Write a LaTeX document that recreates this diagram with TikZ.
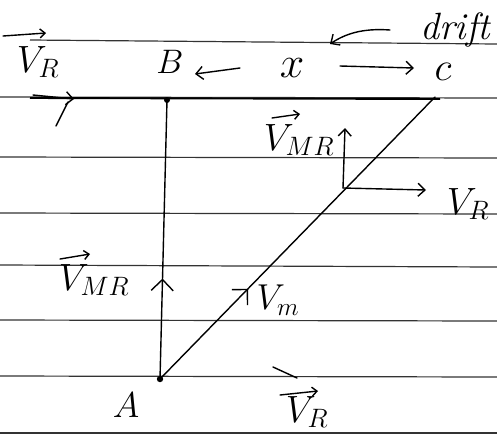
\RequirePackage{fix-cm}
\documentclass[tikz,border=0pt]{standalone}
\usetikzlibrary{arrows.meta,decorations.markings}
\begin{document}
\begin{tikzpicture}[x=1pt,y=-1pt,
  paper/.style={line width=1.2pt, black!80},
  bank/.style={line width=1.9pt, black},
  ink/.style={line width=1.4pt, black, line cap=round},
  lbl/.style={font=\fontsize{34}{38}\selectfont, inner sep=0pt},
  vlbl/.style={font=\fontsize{38}{42}\selectfont, inner sep=0pt},
  tip/.style={-{Straight Barb[length=7pt,width=13pt]}},
  vtip/.style={-{Straight Barb[length=5pt,width=9pt]}},
  midtip/.style={postaction={decorate},decoration={markings,mark=at position #1 with {\arrow{Straight Barb[length=11pt,width=22pt,line width=1.4pt]}}}}
]
\useasboundingbox (0,0) rectangle (497,440);
\fill[white] (0,0) rectangle (497,440);

% ruled paper
\draw[paper] (30,40) -- (497,44);
\draw[paper] (0,97) -- (497,98);
\draw[paper] (0,157) -- (497,158);
\draw[paper] (0,213) -- (497,214);
\draw[paper] (0,265) -- (497,267);
\draw[paper] (0,320) -- (497,321);
\draw[paper] (0,376) -- (497,377);
\draw[paper] (0,433) -- (497,433);
\draw[bank] (30,98) -- (440,99);

% points
\coordinate (A) at (160,379);
\coordinate (B) at (167,100);
\coordinate (C) at (435,97);
\coordinate (O) at (343,188);
\coordinate (Oup) at (345,128);
\coordinate (Oright) at (426,190);
\fill (A) circle (3.2pt);
\fill (B) circle (3pt);

% main vectors
\draw[ink, midtip=0.36] (A) -- (B);
\draw[ink, midtip=0.32] (A) -- (C);
\draw[ink, tip] (O) -- (Oup);
\draw[ink, tip] (O) -- (Oright);

% bank / width / drift arrows
\coordinate (bl1) at (33,95); \coordinate (bl2) at (74,99);
\coordinate (bl3) at (68,102); \coordinate (bl4) at (56,126);
\draw[ink, tip] (bl1) -- (bl2);
\draw[ink] (bl3) -- (bl4);
\coordinate (xl1) at (240,68); \coordinate (xl2) at (195,74);
\coordinate (xr1) at (340,66); \coordinate (xr2) at (414,68);
\draw[ink, tip] (xl1) -- (xl2);
\draw[ink, tip] (xr1) -- (xr2);
\coordinate (d1) at (390,30); \coordinate (d2) at (330,44);
\draw[ink, tip] (d1) .. controls (362,28) and (345,34) .. (d2);
\coordinate (bb1) at (273,367); \coordinate (bb2) at (297,378);
\draw[ink] (bb1) -- (bb2);

% labels
\node[vlbl] (lVRtl) at (38,62) {$V_{R}$};
\node[lbl] (lB) at (170,62) {$B$};
\node[lbl, font=\fontsize{44}{48}\selectfont] (lx) at (292,68) {$x$};
\node[lbl, font=\fontsize{40}{44}\selectfont] (lc) at (443,72) {$c$};
\node[lbl, font=\fontsize{38}{42}\selectfont\itshape] (ldrift) at (455,30) {drift};
\node[vlbl] (lVMRtr) at (299,140) {$V_{MR}$};
\node[vlbl] (lVRr) at (468,204) {$V_{R}$};
\node[vlbl] (lVMRl) at (94,280) {$V_{MR}$};
\node[vlbl, font=\fontsize{36}{40}\selectfont] (lVm) at (278,300) {$V_{m}$};
\node[lbl, font=\fontsize{36}{40}\selectfont] (lA) at (126,405) {$A$};
\node[vlbl] (lVRb) at (307,412) {$V_{R}$};

% vector arrows over the V's
\coordinate (a1s) at (3,36);   \coordinate (a1e) at (46,33);
\coordinate (a2s) at (272,118); \coordinate (a2e) at (300,114);
\coordinate (a3s) at (60,259);  \coordinate (a3e) at (90,254);
\coordinate (a4s) at (280,395); \coordinate (a4e) at (318,391);
\draw[ink, vtip] (a1s) -- (a1e);
\draw[ink, vtip] (a2s) -- (a2e);
\draw[ink, vtip] (a3s) -- (a3e);
\draw[ink, vtip] (a4s) -- (a4e);
\end{tikzpicture}
\end{document}
